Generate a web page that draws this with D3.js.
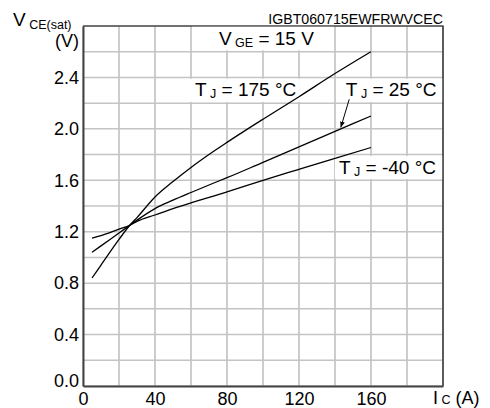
<!DOCTYPE html>
<html>
<head>
<meta charset="utf-8">
<script src="https://cdn.jsdelivr.net/npm/d3@7"></script>
<style>
  body { margin: 0; background: #fff; }
  svg text { font-family: "Liberation Sans", Arial, sans-serif; fill: #000; }
</style>
</head>
<body>
<div id="wrapper"></div>
<script>
// collector current (A)
const currents = [5, 10, 20, 26, 30, 40, 50, 60, 72, 80, 100, 120, 140, 160]
// VCE(sat) (V) for each junction temperature
const vceHot = [0.84, 0.94, 1.14, 1.25, 1.31, 1.47, 1.59, 1.70, 1.82, 1.895, 2.075, 2.25, 2.43, 2.60]
const vceRoom = [1.04, 1.09, 1.19, 1.25, 1.29, 1.38, 1.445, 1.505, 1.575, 1.62, 1.74, 1.86, 1.98, 2.10]
const vceCold = [1.15, 1.17, 1.22, 1.25, 1.28, 1.33, 1.38, 1.425, 1.475, 1.51, 1.60, 1.685, 1.77, 1.855]

const xTickLabels = [0, 40, 80, 120, 160]
const yTickLabels = [0.0, 0.4, 0.8, 1.2, 1.6, 2.0, 2.4]
const xGrid = d3.range(0, 201, 20)
const yGrid = d3.range(0, 15).map(i => i * 0.2)

const series = [
    { name: "175", values: vceHot },
    { name: "25", values: vceRoom },
    { name: "-40", values: vceCold },
]

function drawChart() {
    // 1. dimensions
    let dimensions = {
        width: 490,
        height: 408,
        margin: { top: 26, right: 47, bottom: 22, left: 83 },
    }
    dimensions.boundedWidth = dimensions.width - dimensions.margin.left - dimensions.margin.right
    dimensions.boundedHeight = dimensions.height - dimensions.margin.top - dimensions.margin.bottom

    // 2. canvas
    const wrapper = d3.select("#wrapper")
        .append("svg")
        .attr("width", dimensions.width)
        .attr("height", dimensions.height)

    const bounds = wrapper.append("g")
        .attr("transform", `translate(${dimensions.margin.left},${dimensions.margin.top})`)

    // 3. scales
    const xScale = d3.scaleLinear()
        .domain([0, 200])
        .range([0, dimensions.boundedWidth])

    const yScale = d3.scaleLinear()
        .domain([0, 2.8])
        .range([dimensions.boundedHeight, 0])

    // 4. grid
    bounds.append("g").selectAll("line")
        .data(xGrid)
        .join("line")
        .attr("x1", d => xScale(d)).attr("x2", d => xScale(d))
        .attr("y1", 0).attr("y2", dimensions.boundedHeight)
        .attr("stroke", "#bdbdbd").attr("stroke-width", 1.5)

    bounds.append("g").selectAll("line")
        .data(yGrid)
        .join("line")
        .attr("x1", 0).attr("x2", dimensions.boundedWidth)
        .attr("y1", d => yScale(d)).attr("y2", d => yScale(d))
        .attr("stroke", "#c4c4c4").attr("stroke-width", 1.5)

    // white label boxes that hide the grid
    const boxes = [
        { x0: 60.8, x1: 139, y0: 2.8, y1: 2.61 },
        { x0: 57, x1: 120.5, y0: 2.39, y1: 2.21 },
        { x0: 143, x1: 200, y0: 2.39, y1: 2.21 },
        { x0: 140, x1: 200, y0: 1.79, y1: 1.61 },
    ]
    bounds.append("g").selectAll("rect")
        .data(boxes)
        .join("rect")
        .attr("x", d => xScale(d.x0))
        .attr("y", d => yScale(d.y0))
        .attr("width", d => xScale(d.x1) - xScale(d.x0))
        .attr("height", d => yScale(d.y1) - yScale(d.y0))
        .attr("fill", "#fff")

    // frame top/right
    bounds.append("path")
        .attr("d", `M0,0H${dimensions.boundedWidth}V${dimensions.boundedHeight}`)
        .attr("fill", "none").attr("stroke", "#111").attr("stroke-width", 1.2)

    // 5. curves
    const lineGenerator = d3.line()
        .x((d, i) => xScale(currents[i]))
        .y(d => yScale(d))
        .curve(d3.curveMonotoneX)

    bounds.append("g").selectAll("path")
        .data(series)
        .join("path")
        .attr("d", d => lineGenerator(d.values))
        .attr("fill", "none")
        .attr("stroke", "#000")
        .attr("stroke-width", 1.3)

    // 6. axes
    const xAxisGenerator = d3.axisBottom(xScale)
        .tickValues(xTickLabels)
        .tickSize(0)
        .tickPadding(6)
        .tickFormat(d => d)

    const xAxis = bounds.append("g")
        .attr("transform", `translate(0,${dimensions.boundedHeight})`)
        .call(xAxisGenerator)
    xAxis.select(".domain").attr("stroke", "#444").attr("stroke-width", 2)
    xAxis.selectAll("text").style("font-size", "18px").attr("fill", "#000")

    const yAxisGenerator = d3.axisLeft(yScale)
        .tickValues(yTickLabels)
        .tickSize(0)
        .tickPadding(4)
        .tickFormat(d3.format(".1f"))

    const yAxis = bounds.append("g")
        .call(yAxisGenerator)
    yAxis.select(".domain").attr("stroke", "#444").attr("stroke-width", 2)
    yAxis.selectAll("text").style("font-size", "18px").attr("fill", "#000")
        .filter(d => d === 0).attr("dy", "0.02em")

    // 7. labels
    const yTitle = wrapper.append("text").attr("x", 13).attr("y", 26)
    yTitle.append("tspan").text("V").style("font-size", "19px")
    yTitle.append("tspan").text(" CE(sat)").style("font-size", "12.5px").attr("dy", 3)

    wrapper.append("text").attr("x", 79).attr("y", 47)
        .attr("text-anchor", "end").style("font-size", "18px").text("(V)")

    const xTitle = wrapper.append("text").attr("x", dimensions.margin.left + xScale(194.5)).attr("y", 404)
    xTitle.append("tspan").text("I").style("font-size", "18px")
    xTitle.append("tspan").text(" C").style("font-size", "12.5px")
    xTitle.append("tspan").text(" (A)").style("font-size", "18px")

    wrapper.append("text")
        .attr("x", dimensions.margin.left + dimensions.boundedWidth)
        .attr("y", 24)
        .attr("text-anchor", "end")
        .style("font-size", "14.2px")
        .text("IGBT060715EWFRWVCEC")

    const subLabel = (x, y, main, sub, rest) => {
        const t = bounds.append("text").attr("x", xScale(x)).attr("y", yScale(y))
        t.append("tspan").text(main).style("font-size", "19px")
        t.append("tspan").text(" " + sub).style("font-size", "12.5px").attr("dy", 2)
        t.append("tspan").text(" " + rest).style("font-size", "19px").attr("dy", -2)
    }
    subLabel(75.5, 2.655, "V", "GE", "= 15 V")
    subLabel(62.2, 2.255, "T", "J", "= 175 °C")
    subLabel(146, 2.255, "T", "J", "= 25 °C")
    subLabel(142.2, 1.65, "T", "J", "= -40 °C")

    // arrow to the 25 °C curve
    wrapper.append("defs").append("marker")
        .attr("id", "arrow")
        .attr("viewBox", "0 0 10 10")
        .attr("refX", 10).attr("refY", 5)
        .attr("markerWidth", 6).attr("markerHeight", 6)
        .attr("orient", "auto")
        .append("path").attr("d", "M0,1L10,5L0,9Z").attr("fill", "#000")

    bounds.append("line")
        .attr("x1", xScale(147.9)).attr("y1", yScale(2.23))
        .attr("x2", xScale(143.2)).attr("y2", yScale(2.01))
        .attr("stroke", "#000").attr("stroke-width", 1)
        .attr("marker-end", "url(#arrow)")
}

drawChart()
</script>
</body>
</html>
